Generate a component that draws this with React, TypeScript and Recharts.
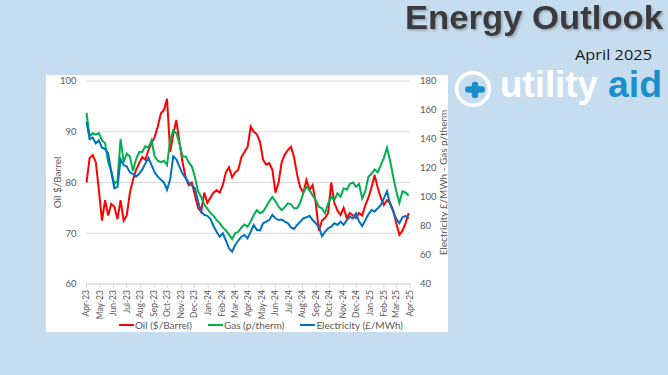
import React from 'react';
import { LineChart, Line, XAxis, YAxis, CartesianGrid, Legend } from 'recharts';

const monthLabels = [
  'Apr-23', 'May-23', 'Jun-23', 'Jul-23', 'Aug-23', 'Sep-23', 'Oct-23', 'Nov-23', 'Dec-23',
  'Jan-24', 'Feb-24', 'Mar-24', 'Apr-24', 'May-24', 'Jun-24', 'Jul-24', 'Aug-24', 'Sep-24',
  'Oct-24', 'Nov-24', 'Dec-24', 'Jan-25', 'Feb-25', 'Mar-25', 'Apr-25',
];

const seriesNames = ['Oil ($/Barrel)', 'Gas (p/therm)', 'Electricity (£/MWh)'];

// weekly readings from 1 Apr 2023
const oilPrices = [
  80, 84.8, 85.4, 84, 78.5, 72.5, 76.5, 73.5, 75.8, 75.2,
  72.8, 76.5, 72.5, 73.5, 78, 80.5, 82.5, 83.8, 85, 84.5,
  86.4, 87.7, 89, 91, 93.6, 94.3, 96.5, 86, 89.5, 92.3,
  88, 84, 81, 79.5, 80, 77.5, 75, 74.2, 78, 76,
  77, 78, 78.5, 78, 79.5, 82, 83, 81, 82, 82.5,
  85, 86, 87, 91, 90, 89.5, 88, 84.5, 83.5, 83.8,
  82.5, 78, 80, 84, 85.5, 86.4, 87, 85, 81.5, 79,
  78, 80.5, 78.5, 79.5, 76, 70.5, 72.5, 73, 74, 80,
  76, 74.5, 73.6, 75, 73, 74, 73.5, 73, 74, 73.5,
  75.5, 77, 79, 81.5, 79, 77, 75.6, 76.5, 76, 74.5,
  72, 69.7, 70.5, 72, 74,
];

const gasPrices = [
  158, 142, 144, 143, 144, 139, 137, 124, 118, 109,
  111, 140, 124, 130, 128, 118, 126, 131, 131, 135,
  134, 139, 128, 125, 124, 125, 122, 139, 146, 144,
  137, 128, 128, 124, 121, 114, 104, 100, 95, 92,
  89, 87, 84, 82, 79, 77, 74, 71, 75, 76,
  79, 81, 79.5, 83, 87.6, 91, 88.8, 89.9, 93.3, 97,
  100, 97, 93.3, 91, 93, 95.6, 95, 92.2, 92.2, 96,
  103, 107, 104.8, 101, 98, 93.3, 92.2, 88.8, 95.6, 100.2,
  97.9, 102.5, 100.2, 106, 105, 109, 110, 107, 109, 99,
  104, 114, 116, 119, 117, 122, 127, 134, 125, 114,
  104, 96, 104, 103, 101,
];

const electricityPrices = [
  152, 140, 141, 137, 139, 134, 133, 130, 117, 106,
  107, 126, 122, 121, 117, 116, 114, 116, 119, 123,
  127, 122, 117, 114, 112, 110, 105, 112, 128, 126,
  121, 116, 113, 110, 108, 106, 97, 90, 87.6, 87,
  85, 80, 76, 72.6, 74.9, 70, 64.6, 62.3, 66.9, 70,
  72.6, 73.8, 71.5, 76, 80.7, 77.2, 77, 81.9, 83, 84.1,
  87.6, 85.3, 84.1, 84.5, 83, 82, 79, 78, 80.7, 83,
  85.3, 86, 87, 84.1, 81.9, 79.5, 73, 76, 78.4, 79.5,
  81.9, 80.7, 83, 80.7, 84.1, 86.4, 85.3, 88.8, 83, 80,
  84, 88, 91, 90, 92.2, 94.5, 99, 104, 95, 90,
  85, 82, 86, 87, 85,
];

const leftTicks = [60, 70, 80, 90, 100];
const rightTicks = [40, 60, 80, 100, 120, 140, 160, 180];

const START = Date.UTC(2023, 3, 1);
const DAY_MS = 86400000;
const monthTicks = monthLabels.map((_, k) => (Date.UTC(2023, 3 + k, 1) - START) / DAY_MS);
const lastDay = monthTicks[monthTicks.length - 1];

const data = oilPrices.map((oil, i) => ({
  day: i * 7,
  oil,
  gas: gasPrices[i],
  electricity: electricityPrices[i],
}));

const TEXT = '#595959';
const FONT = 'Lato, "Open Sans", sans-serif';

const XTick = (props: any) => {
  const { x, y, payload } = props;
  const idx = monthTicks.indexOf(payload.value);
  return (
    <text
      x={x}
      y={y}
      transform={`rotate(-90 ${x} ${y})`}
      textAnchor="end"
      dy="0.33em"
      fontSize={8.5}
      fill={TEXT}
      fontFamily={FONT}
    >
      {idx >= 0 ? monthLabels[idx] : ''}
    </text>
  );
};

const makeAxisLabel = (text: string, side: 'left' | 'right') => (props: any) => {
  const vb = props.viewBox || {};
  const cx = side === 'left' ? vb.x + 11 : vb.x + vb.width - 5;
  const cy = vb.y + vb.height / 2;
  return (
    <text
      x={cx}
      y={cy}
      transform={`rotate(-90 ${cx} ${cy})`}
      textAnchor="middle"
      dominantBaseline="central"
      fontSize={10}
      fill={TEXT}
      fontFamily={FONT}
    >
      {text}
    </text>
  );
};

const LegendContent = (props: any) => {
  const payload = [...(props.payload || [])].sort(
    (a: any, b: any) => seriesNames.indexOf(a.value) - seriesNames.indexOf(b.value)
  );
  return (
    <div
      style={{
        width: 402,
        boxSizing: 'border-box',
        paddingLeft: 28,
        display: 'flex',
        justifyContent: 'center',
        alignItems: 'center',
        fontSize: 10,
        color: TEXT,
        fontFamily: FONT,
        lineHeight: '14px',
      }}
    >
      {payload.map((entry: any) => (
        <span key={entry.value} style={{ display: 'inline-flex', alignItems: 'center', margin: '0 8px' }}>
          <svg width={15} height={10} style={{ marginRight: 1 }}>
            <line x1={0} y1={5} x2={15} y2={5} stroke={entry.color} strokeWidth={2} />
          </svg>
          {entry.value}
        </span>
      ))}
    </div>
  );
};

export default function App() {
  return (
    <div
      style={{
        position: 'fixed',
        left: 0,
        top: 0,
        width: 668,
        height: 375,
        background: '#c6ddf0',
        overflow: 'hidden',
      }}
    >
      <svg width={668} height={115} style={{ position: 'absolute', left: 0, top: 0 }}>
        <defs>
          <filter id="titleShadow" x="-5%" y="-20%" width="110%" height="140%">
            <feDropShadow dx="1.5" dy="1.5" stdDeviation="0.8" floodColor="#7f8790" floodOpacity="0.7" />
          </filter>
        </defs>
        <text
          x={405}
          y={28.5}
          fontFamily='"Liberation Sans", Arial, sans-serif'
          fontWeight="bold"
          fontSize={33}
          fill="#3b3b3d"
          textLength={258}
          lengthAdjust="spacingAndGlyphs"
          filter="url(#titleShadow)"
        >
          Energy Outlook
        </text>
        <text
          x={575}
          y={60}
          fontFamily='"Open Sans", sans-serif'
          fontSize={15}
          fill="#1a1a1a"
          textLength={77}
          lengthAdjust="spacingAndGlyphs"
        >
          April 2025
        </text>
        <circle cx={473} cy={89} r={16.3} fill="none" stroke="#ffffff" strokeWidth={3.6} />
        <line x1={468.3} y1={89.5} x2={481.7} y2={89.5} stroke="#1b8fcb" strokeWidth={6.5} strokeLinecap="round" />
        <line x1={475} y1={85} x2={475} y2={95} stroke="#1b8fcb" strokeWidth={6.5} strokeLinecap="round" />
        <text
          x={500}
          y={97}
          fontFamily='"Liberation Sans", Arial, sans-serif'
          fontWeight="bold"
          fontSize={36}
          fill="#ffffff"
          textLength={98}
          lengthAdjust="spacingAndGlyphs"
        >
          utility
        </text>
        <text
          x={608}
          y={97}
          fontFamily='"Liberation Sans", Arial, sans-serif'
          fontWeight="bold"
          fontSize={36}
          fill="#1b8fcb"
          textLength={54}
          lengthAdjust="spacingAndGlyphs"
        >
          aid
        </text>
      </svg>

      <div style={{ position: 'absolute', left: 46, top: 75, width: 402, height: 257, background: '#ffffff' }}>
        <LineChart width={402} height={257} data={data} margin={{ top: 6, right: 0, bottom: 0, left: 0 }}>
          <CartesianGrid vertical={false} stroke="#d9d9d9" yAxisId="left" />
          <XAxis
            dataKey="day"
            type="number"
            domain={[0, lastDay]}
            ticks={monthTicks}
            interval={0}
            height={34}
            tick={<XTick />}
            tickSize={4}
            tickMargin={2}
            axisLine={{ stroke: '#d9d9d9' }}
            tickLine={{ stroke: '#d9d9d9' }}
          />
          <YAxis
            yAxisId="left"
            orientation="left"
            domain={[60, 100]}
            ticks={leftTicks}
            interval={0}
            width={40.5}
            axisLine={false}
            tickLine={false}
            tickSize={0}
            tickMargin={10}
            tick={{ fontSize: 9.5, fill: TEXT, fontFamily: FONT }}
            label={{ content: makeAxisLabel('Oil  $/Barrel', 'left') }}
          />
          <YAxis
            yAxisId="right"
            orientation="right"
            domain={[40, 180]}
            ticks={rightTicks}
            interval={0}
            width={38}
            axisLine={false}
            tickLine={false}
            tickSize={0}
            tickMargin={10}
            tick={{ fontSize: 9.5, fill: TEXT, fontFamily: FONT }}
            label={{ content: makeAxisLabel('Electricity £/MWh - Gas p/therm', 'right') }}
          />
          <Legend
            verticalAlign="bottom"
            height={14}
            wrapperStyle={{ left: 0, width: 402 }}
            content={<LegendContent />}
          />
          <Line
            yAxisId="left"
            type="linear"
            dataKey="oil"
            name={seriesNames[0]}
            stroke="#ff0000"
            strokeWidth={2}
            dot={false}
            isAnimationActive={false}
          />
          <Line
            yAxisId="right"
            type="linear"
            dataKey="gas"
            name={seriesNames[1]}
            stroke="#00b050"
            strokeWidth={2}
            dot={false}
            isAnimationActive={false}
          />
          <Line
            yAxisId="right"
            type="linear"
            dataKey="electricity"
            name={seriesNames[2]}
            stroke="#0070c0"
            strokeWidth={2}
            dot={false}
            isAnimationActive={false}
          />
        </LineChart>
      </div>
    </div>
  );
}
